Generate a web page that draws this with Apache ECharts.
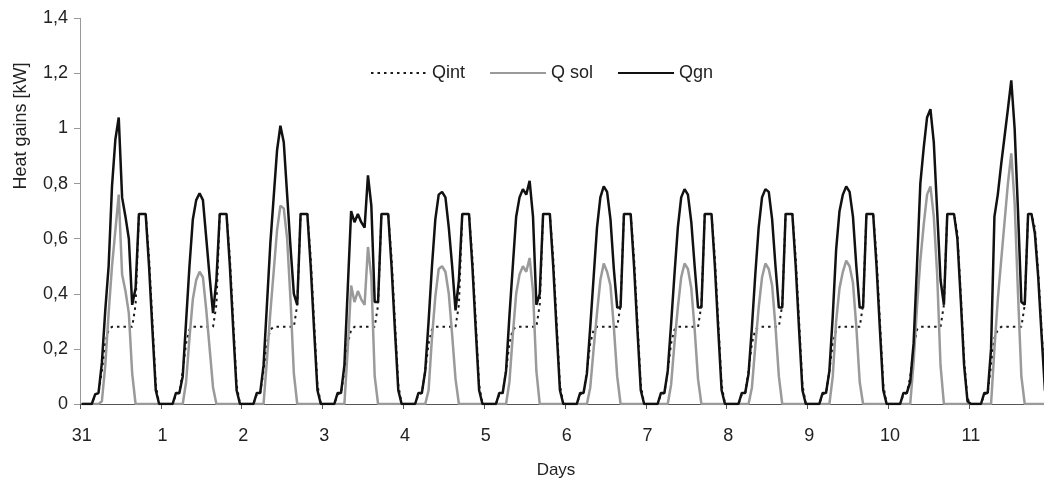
<!DOCTYPE html>
<html>
<head>
<meta charset="utf-8">
<script src="https://cdn.jsdelivr.net/npm/echarts@6/dist/echarts.min.js"></script>
<style>
html,body{margin:0;padding:0;background:#fff;}
#c{width:1044px;height:487px;}
</style>
</head>
<body>
<div id="c"></div>
<script>
// Tick labels (one per day; 24 hourly values per day)
const dayLabels = ['31','1','2','3','4','5','6','7','8','9','10','11'];
const yTicks = [0, 0.2, 0.4, 0.6, 0.8, 1, 1.2, 1.4];

// Internal heat gains Qint [kW], hourly, one row per day
const qintByDay = [
  [0,0,0,0,0.035,0.04,0.12,0.22,0.27,0.28,0.28,0.28,0.28,0.28,0.28,0.28,0.36,0.69,0.69,0.69,0.53,0.3,0.07,0],
  [0,0,0,0,0.035,0.04,0.12,0.22,0.27,0.28,0.28,0.28,0.28,0.28,0.28,0.28,0.36,0.69,0.69,0.69,0.53,0.3,0.07,0],
  [0,0,0,0,0.035,0.04,0.12,0.22,0.27,0.28,0.28,0.28,0.28,0.28,0.28,0.28,0.36,0.69,0.69,0.69,0.53,0.3,0.07,0],
  [0,0,0,0,0.035,0.04,0.12,0.22,0.27,0.28,0.28,0.28,0.28,0.28,0.28,0.28,0.36,0.69,0.69,0.69,0.53,0.3,0.07,0],
  [0,0,0,0,0.035,0.04,0.12,0.22,0.27,0.28,0.28,0.28,0.28,0.28,0.28,0.28,0.36,0.69,0.69,0.69,0.53,0.3,0.07,0],
  [0,0,0,0,0.035,0.04,0.12,0.22,0.27,0.28,0.28,0.28,0.28,0.28,0.28,0.28,0.36,0.69,0.69,0.69,0.53,0.3,0.07,0],
  [0,0,0,0,0.035,0.04,0.12,0.22,0.27,0.28,0.28,0.28,0.28,0.28,0.28,0.28,0.36,0.69,0.69,0.69,0.53,0.3,0.07,0],
  [0,0,0,0,0.035,0.04,0.12,0.22,0.27,0.28,0.28,0.28,0.28,0.28,0.28,0.28,0.36,0.69,0.69,0.69,0.53,0.3,0.07,0],
  [0,0,0,0,0.035,0.04,0.12,0.22,0.27,0.28,0.28,0.28,0.28,0.28,0.28,0.28,0.36,0.69,0.69,0.69,0.53,0.3,0.07,0],
  [0,0,0,0,0.035,0.04,0.12,0.22,0.27,0.28,0.28,0.28,0.28,0.28,0.28,0.28,0.36,0.69,0.69,0.69,0.53,0.3,0.07,0],
  [0,0,0,0,0.035,0.04,0.1,0.2,0.27,0.28,0.28,0.28,0.28,0.28,0.28,0.28,0.36,0.69,0.69,0.69,0.62,0.4,0.16,0.02],
  [0,0,0,0,0.035,0.04,0.14,0.24,0.27,0.28,0.28,0.28,0.28,0.28,0.28,0.28,0.36,0.69,0.69,0.64,0.48,0.27,0.07,0]
];

// Solar heat gains Q sol [kW]
const qsolByDay = [
  [0,0,0,0,0,0,0.01,0.14,0.33,0.5,0.63,0.76,0.47,0.41,0.33,0.11,0,0,0,0,0,0,0,0],
  [0,0,0,0,0,0,0,0.08,0.24,0.38,0.45,0.48,0.46,0.34,0.2,0.06,0,0,0,0,0,0,0,0],
  [0,0,0,0,0,0,0,0.16,0.33,0.48,0.63,0.72,0.71,0.6,0.38,0.11,0,0,0,0,0,0,0,0],
  [0,0,0,0,0,0,0,0.2,0.43,0.37,0.41,0.38,0.36,0.57,0.46,0.1,0,0,0,0,0,0,0,0],
  [0,0,0,0,0,0,0,0.05,0.24,0.39,0.49,0.5,0.48,0.4,0.25,0.09,0,0,0,0,0,0,0,0],
  [0,0,0,0,0,0,0,0.08,0.25,0.4,0.47,0.5,0.48,0.53,0.41,0.12,0,0,0,0,0,0,0,0],
  [0,0,0,0,0,0,0,0.06,0.2,0.33,0.45,0.51,0.48,0.43,0.28,0.1,0,0,0,0,0,0,0,0],
  [0,0,0,0,0,0,0,0.07,0.22,0.35,0.46,0.51,0.49,0.42,0.27,0.09,0,0,0,0,0,0,0,0],
  [0,0,0,0,0,0,0,0.06,0.21,0.35,0.46,0.51,0.49,0.43,0.28,0.1,0,0,0,0,0,0,0,0],
  [0,0,0,0,0,0,0,0.1,0.3,0.42,0.48,0.52,0.5,0.44,0.28,0.08,0,0,0,0,0,0,0,0],
  [0,0,0,0,0,0,0,0.15,0.35,0.52,0.65,0.76,0.79,0.68,0.47,0.14,0,0,0,0,0,0,0,0],
  [0,0,0,0,0,0,0,0.2,0.38,0.52,0.66,0.8,0.91,0.73,0.4,0.1,0,0,0,0,0,0,0,0]
];

// Total heat gains Qgn [kW]
const qgnByDay = [
  [0,0,0,0,0.035,0.04,0.15,0.34,0.5,0.79,0.96,1.04,0.75,0.68,0.6,0.36,0.42,0.69,0.69,0.69,0.5,0.27,0.05,0],
  [0,0,0,0,0.04,0.04,0.1,0.3,0.5,0.67,0.74,0.765,0.74,0.6,0.46,0.33,0.45,0.69,0.69,0.69,0.5,0.27,0.05,0],
  [0,0,0,0,0.04,0.04,0.14,0.36,0.58,0.75,0.92,1.01,0.95,0.76,0.57,0.4,0.36,0.69,0.69,0.69,0.5,0.27,0.05,0],
  [0,0,0,0,0.04,0.04,0.14,0.42,0.7,0.66,0.69,0.66,0.64,0.83,0.72,0.37,0.37,0.69,0.69,0.69,0.5,0.27,0.05,0],
  [0,0,0,0,0.04,0.04,0.12,0.3,0.5,0.67,0.76,0.77,0.75,0.64,0.5,0.34,0.45,0.69,0.69,0.69,0.5,0.27,0.05,0],
  [0,0,0,0,0.04,0.04,0.12,0.32,0.5,0.68,0.75,0.78,0.76,0.81,0.68,0.36,0.4,0.69,0.69,0.69,0.5,0.27,0.05,0],
  [0,0,0,0,0.04,0.04,0.11,0.28,0.46,0.64,0.75,0.79,0.77,0.67,0.49,0.35,0.35,0.69,0.69,0.69,0.5,0.27,0.05,0],
  [0,0,0,0,0.04,0.04,0.12,0.29,0.47,0.64,0.75,0.78,0.76,0.66,0.5,0.35,0.35,0.69,0.69,0.69,0.5,0.27,0.05,0],
  [0,0,0,0,0.04,0.04,0.11,0.28,0.47,0.64,0.75,0.78,0.77,0.67,0.5,0.35,0.35,0.69,0.69,0.69,0.5,0.27,0.05,0],
  [0,0,0,0,0.04,0.04,0.12,0.32,0.56,0.7,0.76,0.79,0.77,0.68,0.5,0.35,0.35,0.69,0.69,0.69,0.5,0.27,0.05,0],
  [0,0,0,0,0.04,0.04,0.08,0.22,0.5,0.8,0.93,1.04,1.07,0.95,0.7,0.45,0.36,0.69,0.69,0.69,0.6,0.38,0.14,0.01],
  [0,0,0,0,0.04,0.04,0.2,0.68,0.76,0.87,0.97,1.07,1.175,1.0,0.7,0.37,0.36,0.69,0.69,0.62,0.46,0.25,0.05,0]
];

// Hourly categories built from the day labels
const categories = [];
dayLabels.forEach(function (d) {
  for (let h = 0; h < qgnByDay[0].length; h++) categories.push(d + '|' + h);
});
const qint = qintByDay.flat();
const qsol = qsolByDay.flat();
const qgn = qgnByDay.flat();

const FONT = "'Liberation Sans', Arial, Helvetica, sans-serif";
const TXT = '#222';
const isDayStart = function (i) { return i % 24 === 0; };

const chart = echarts.init(document.getElementById('c'), null, { renderer: 'canvas' });
chart.setOption({
  animation: false,
  backgroundColor: '#ffffff',
  grid: { left: 80, top: 18.3, width: 970, height: 385.7, containLabel: false, outerBoundsMode: 'none' },
  legend: {
    left: 365, top: 59,
    itemWidth: 56, itemHeight: 14, itemGap: 24,
    selectedMode: false,
    itemStyle: { opacity: 0, borderWidth: 0 },
    textStyle: { fontFamily: FONT, fontSize: 18, color: TXT, padding: [0, 0, 0, 0] },
    data: ['Qint', 'Q sol', 'Qgn']
  },
  xAxis: {
    type: 'category',
    data: categories,
    boundaryGap: true,
    axisLine: { show: true, lineStyle: { color: '#555', width: 1 } },
    axisTick: { show: true, interval: isDayStart, length: 5, lineStyle: { color: '#555', width: 1 } },
    axisLabel: {
      interval: isDayStart,
      formatter: function (v) { return v.split('|')[0]; },
      margin: 23, fontFamily: FONT, fontSize: 18, color: TXT
    },
    splitLine: { show: false }
  },
  yAxis: {
    type: 'value',
    min: yTicks[0], max: yTicks[yTicks.length - 1], interval: 0.2,
    axisLine: { show: true, lineStyle: { color: '#999', width: 1 } },
    axisTick: { show: true, length: 6, lineStyle: { color: '#999', width: 1 } },
    axisLabel: {
      margin: 12, fontFamily: FONT, fontSize: 18, color: TXT,
      formatter: function (v) { return String(+v.toFixed(1)).replace('.', ','); }
    },
    splitLine: { show: false }
  },
  graphic: [
    {
      type: 'text', x: 21, y: 126, rotation: Math.PI / 2,
      style: { text: 'Heat gains [kW]', fill: TXT, font: '18px ' + FONT, align: 'center', verticalAlign: 'middle', textAlign: 'center', textVerticalAlign: 'middle' }
    },
    {
      type: 'text', x: 556, y: 470,
      style: { text: 'Days', fill: TXT, font: '17px ' + FONT, align: 'center', verticalAlign: 'middle', textAlign: 'center', textVerticalAlign: 'middle' }
    }
  ],
  series: [
    {
      name: 'Qint', type: 'line', data: qint, symbol: 'none', z: 2,
      itemStyle: { color: '#1a1a1a' },
      lineStyle: { color: '#1a1a1a', width: 2, type: [2.5, 4] }
    },
    {
      name: 'Q sol', type: 'line', data: qsol, symbol: 'none', z: 3,
      itemStyle: { color: '#9a9a9a' },
      lineStyle: { color: '#9a9a9a', width: 2.5 }
    },
    {
      name: 'Qgn', type: 'line', data: qgn, symbol: 'none', z: 4,
      itemStyle: { color: '#111111' },
      lineStyle: { color: '#111111', width: 2.5 }
    }
  ]
});
</script>
</body>
</html>
